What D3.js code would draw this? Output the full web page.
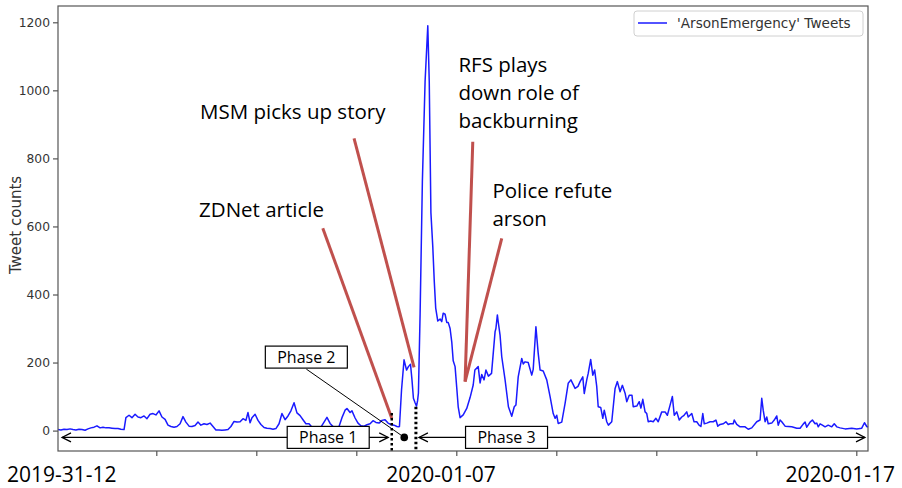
<!DOCTYPE html>
<html><head><meta charset="utf-8">
<script src="https://cdn.jsdelivr.net/npm/d3@7"></script>
<style>body{margin:0;background:#fff}</style>
</head><body><svg id="c" width="902" height="488"></svg>
<script>
// ---- data (hours since start, tweet counts) ----
const hours = [0.8,2.2,3.7,5.1,6.6,8.0,9.4,10.9,12.3,13.8,15.2,16.6,18.1,19.5,21.0,22.4,23.8,25.3,26.7,28.2,29.6,31.0,32.5,33.4,34.9,36.3,37.8,39.2,40.6,42.1,43.5,45.0,46.4,47.8,49.3,50.7,52.2,53.6,55.0,56.5,57.9,59.4,60.8,62.2,63.7,65.1,66.6,68.0,69.4,70.9,72.3,73.8,75.2,76.6,78.1,79.5,81.0,82.4,83.8,85.3,86.7,88.2,89.6,91.0,92.0,93.0,93.9,95.4,
96.8,98.2,99.7,101.1,102.6,104.0,105.4,106.9,108.3,109.8,111.2,112.6,114.1,115.5,117.0,118.4,119.8,121.3,122.7,124.2,125.6,127.0,128.5,129.9,131.4,132.8,134.2,135.7,137.1,138.6,139.5,141.0,141.9,143.4,144.8,146.2,147.7,149.1,150.6,152.0,153.4,154.9,156.3,157.8,159.2,160.6,162.1,163.5,164.2,
164.7,165.7,166.9,168.1,169.0,170.0,170.7,171.4,172.2,172.9,173.4,173.8,174.6,175.7,177.0,178.3,179.0,179.8,180.7,181.4,182.1,183.1,184.2,185.0,185.7,186.6,187.4,188.1,189.0,189.8,190.5,191.4,192.2,192.9,193.8,195.3,197.0,198.6,200.1,200.9,202.5,203.4,204.2,205.3,206.2,207.4,208.9,210.6,211.0,211.7,212.1,213.0,213.8,215.4,217.0,218.6,219.8,220.6,221.7,223.4,224.1,225.0,226.5,228.2,228.9,230.2,231.3,232.2,233.7,235.4,237.0,238.5,239.4,240.2,240.9,242.6,244.2,245.7,247.0,249.0,250.4,251.4,252.7,253.4,254.6,255.3,256.5,257.5,258.4,259.4,260.1,261.3,262.3,263.0,264.2,265.0,266.6,268.2,269.3,270.6,271.7,273.0,273.8,275.0,276.3,276.9,278.6,279.8,280.6,281.5,282.6,283.4,284.1,285.3,286.5,287.8,288.9,290.6,292.2,293.3,294.6,295.7,296.6,297.8,299.0,300.2,301.3,302.6,303.3,305.0,306.1,307.4,308.5,309.4,310.3,311.0,312.2,313.8,315.3,316.6,317.5,318.6,320.1,321.4,322.5,323.4,324.9,325.4,326.6,328.2,330.6,332.1,333.8,336.2,337.8,338.6,339.3,340.2,341.0,341.7,343.4,344.6,345.8,346.5,347.4,348.2,349.8,353.0,355.4,357.0,358.5,359.4,360.2,361.8,362.9,364.2,365.0,365.7,366.6,367.7,369.0,370.5,372.2,373.4,374.6,376.2,378.6,381.8,384.2,386.6,387.9,389.0,389.6];
const counts = [3,2,4,3,5,3,2,4,3,1,5,8,10,14,8,10,8,8,7,6,6,4,3,38,45,38,48,40,38,43,35,48,50,46,58,40,33,16,12,10,12,20,41,25,13,12,15,25,16,20,18,22,12,2,2,1,2,3,12,27,25,26,35,30,53,23,38,48,
30,18,9,7,6,4,6,20,50,32,43,58,82,52,44,32,20,20,10,8,8,10,25,39,21,12,10,12,38,60,65,53,58,37,22,14,13,17,20,29,24,22,30,32,22,18,16,12,11,
12,120,208,178,188,195,150,95,82,72,88,110,340,732,1026,1190,1026,640,540,440,360,322,328,320,345,342,318,318,300,261,205,188,126,70,38,46,65,97,134,178,188,140,165,149,178,160,168,291,300,340,320,280,217,149,70,42,70,75,158,212,196,202,200,163,180,305,227,178,175,149,100,50,36,45,21,25,80,139,149,124,130,144,158,109,149,168,209,163,178,129,70,68,36,60,26,16,26,124,144,114,133,110,85,104,104,70,72,85,66,92,55,50,26,28,26,36,26,55,55,45,75,100,45,55,31,40,45,55,40,50,26,26,16,12,50,20,22,26,26,31,13,18,20,26,18,20,20,31,18,11,11,4,8,26,31,95,60,26,40,20,22,31,43,16,31,26,13,11,7,7,19,25,10,25,31,20,22,11,20,16,11,16,11,20,11,8,5,7,5,7,23,12,10];
const yTickValues = [0,200,400,600,800,1000,1200];
const xTickHours = [48,96,144,192,240,288,336,384];
const seriesName = "'ArsonEmergency' Tweets";
const yLabel = "Tweet counts";
const dateLabels = ["2019-31-12","2020-01-07","2020-01-17"];
// event annotations (hour, count)
const eventTexts = [["ZDNet article"],["MSM picks up story"],["RFS plays","down role of","backburning"],["Police refute","arson"]];
const eventTextAt = [[68.5,627],[69.0,915],[193.0,1055],[209.3,683]];
const eventLineFrom = [[127.9,595],[142.9,859],[199.9,849],[213.8,565]];
const eventLineTo = [[161.0,36],[171.7,186],[196.2,144],[196.2,144]];
// phases
const phaseNames = ["Phase 1","Phase 2","Phase 3"];
const phaseBoundHours = [161.0,172.6];
const phaseBoundTops = [52,70];
const phaseBoxCenters = [[130.5,-20],[120.0,216],[216.1,-20]];
const phaseDot = [167.0,-20];

// ---- drawing ----
const svg = d3.select("#c");
const L=58,R=868,T=6,B=451;
const x = d3.scaleLinear().domain([0.8,389.6]).range([L,R]);
const y = d3.scaleLinear().domain([-60,1248]).range([B,T]);

svg.append("rect").attr("width",902).attr("height",488).attr("fill","#fff");

// axes
const yAxis = svg.append("g").attr("transform",`translate(${L},0)`)
  .call(d3.axisLeft(y).tickValues(yTickValues).tickFormat(d3.format("d")).tickSize(5).tickPadding(3));
yAxis.select(".domain").remove();
yAxis.selectAll("line").attr("stroke","#333");
yAxis.selectAll("text").attr("font-family","DejaVu Sans").attr("font-size",12.3).attr("fill","#333");

const xAxis = svg.append("g").attr("transform",`translate(0,${B})`)
  .call(d3.axisBottom(x).tickValues(xTickHours).tickSize(5).tickFormat(""));
xAxis.select(".domain").remove();
xAxis.selectAll("line").attr("stroke","#333");

svg.append("text").attr("transform","translate(21,225) rotate(-90)")
  .attr("text-anchor","middle").attr("font-family","DejaVu Sans").attr("font-size",15)
  .attr("fill","#333").text(yLabel);

// line
svg.append("path").datum(hours.map((h,i)=>[h,counts[i]]))
  .attr("fill","none").attr("stroke","#1a1aff").attr("stroke-width",1.5)
  .attr("stroke-linejoin","round")
  .attr("d",d3.line().x(d=>x(d[0])).y(d=>y(d[1])));

// frame
svg.append("rect").attr("x",L).attr("y",T).attr("width",R-L).attr("height",B-T)
  .attr("fill","none").attr("stroke","#555").attr("stroke-width",1.2);

// legend
svg.append("rect").attr("x",634).attr("y",11).attr("width",229).attr("height",25).attr("rx",3)
  .attr("fill","#fff").attr("stroke","#d0d0d0");
svg.append("line").attr("x1",638).attr("x2",667).attr("y1",23).attr("y2",23)
  .attr("stroke","#1a1aff").attr("stroke-width",1.5);
svg.append("text").attr("x",677).attr("y",28).attr("font-family","DejaVu Sans")
  .attr("font-size",13.6).attr("fill","#333").text(seriesName);

// event annotations
eventLineFrom.forEach((p,i)=>{
  svg.append("line").attr("x1",x(p[0])).attr("y1",y(p[1]))
    .attr("x2",x(eventLineTo[i][0])).attr("y2",y(eventLineTo[i][1]))
    .attr("stroke","#c0504d").attr("stroke-width",3);
});
const lineGap = [0,0,28.3,27.5];
eventTexts.forEach((lines,i)=>{
  const t = svg.append("text").attr("font-family","Open Sans").attr("font-size",20.5).attr("fill","#000");
  lines.forEach((s,j)=>t.append("tspan").attr("x",x(eventTextAt[i][0])).attr("y",y(eventTextAt[i][1])+j*lineGap[i]).text(s));
});

// phase markers
const ay = y(-20);
function chevron(tipX, dir){
  svg.append("path").attr("d",`M${tipX+dir*9},${ay-4.5}L${tipX},${ay}L${tipX+dir*9},${ay+4.5}`)
    .attr("fill","none").attr("stroke","#000").attr("stroke-width",1.2);
}
svg.append("line").attr("x1",x(0.8)+4).attr("x2",x(phaseBoundHours[0])-3.5).attr("y1",ay).attr("y2",ay).attr("stroke","#000").attr("stroke-width",1.2);
chevron(x(0.8)+4,1); chevron(x(phaseBoundHours[0])-3.5,-1);
svg.append("line").attr("x1",x(phaseBoundHours[1])+3).attr("x2",x(389.6)-3).attr("y1",ay).attr("y2",ay).attr("stroke","#000").attr("stroke-width",1.2);
chevron(x(phaseBoundHours[1])+3,1); chevron(x(389.6)-3,-1);

phaseBoundHours.forEach((h,i)=>{
  svg.append("line").attr("x1",x(h)).attr("x2",x(h)).attr("y1",y(phaseBoundTops[i])).attr("y2",B)
    .attr("stroke","#000").attr("stroke-width",i===0?2.5:3).attr("stroke-dasharray","2.5,2.5");
});
// leader line from Phase 2 box to dot
svg.append("line").attr("x1",x(phaseBoxCenters[1][0])).attr("y1",y(phaseBoxCenters[1][1])+12)
  .attr("x2",x(phaseDot[0])).attr("y2",y(phaseDot[1])).attr("stroke","#000").attr("stroke-width",1);
svg.append("circle").attr("cx",x(phaseDot[0])).attr("cy",y(phaseDot[1])).attr("r",3.8).attr("fill","#000");

phaseNames.forEach((n,i)=>{
  const cx = x(phaseBoxCenters[i][0]), cy = y(phaseBoxCenters[i][1]);
  svg.append("rect").attr("x",cx-41).attr("y",cy-11).attr("width",82).attr("height",22)
    .attr("fill","#fff").attr("stroke","#000").attr("stroke-width",1.2);
  svg.append("text").attr("x",cx).attr("y",cy+6).attr("text-anchor","middle")
    .attr("font-family","Open Sans").attr("font-size",16).attr("fill","#000").text(n);
});

// date labels under the axis
const dateAnchors = [["start",7],["middle",441],["end",895]];
dateLabels.forEach((s,i)=>{
  svg.append("text").attr("x",dateAnchors[i][1]).attr("y",481.5).attr("text-anchor",dateAnchors[i][0])
    .attr("font-family","Open Sans").attr("font-size",21).attr("fill","#000").text(s);
});
</script></body></html>
